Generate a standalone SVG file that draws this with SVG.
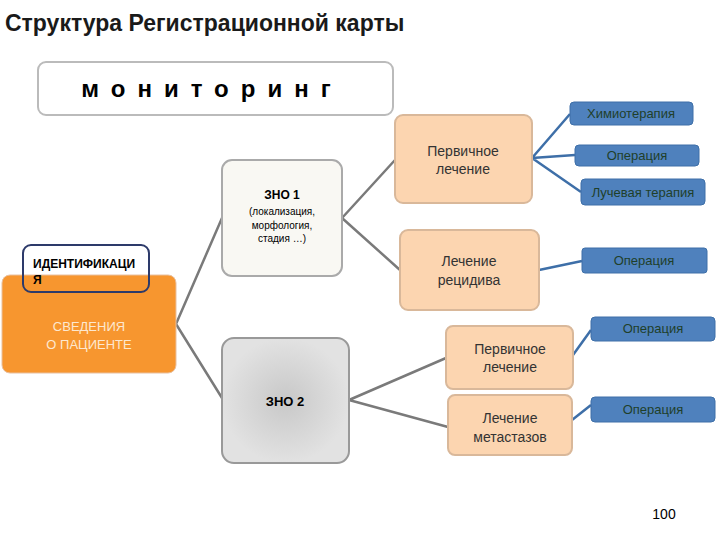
<svg xmlns="http://www.w3.org/2000/svg" width="720" height="540" viewBox="0 0 720 540">
<defs>
<radialGradient id="g2"><stop offset="0" stop-color="#c8c8c8"/><stop offset="1" stop-color="#e2e2e2"/></radialGradient>
<style>
text{font-family:"Liberation Sans",Arial,sans-serif}
.pe{fill:#fcd5b0;stroke:#d9b89a;stroke-width:2}
.bl{fill:#4f81bd;stroke:#3e6fa8;stroke-width:1}
.bt{font-size:13px;fill:#1f3f2a;text-anchor:middle}
.pt{font-size:14px;fill:#333;text-anchor:middle}
.gl{stroke:#7a7a7a;stroke-width:2.5;fill:none}
.bc{stroke:#3e6fa8;stroke-width:2.5;fill:none}
</style>
</defs>
<rect width="720" height="540" fill="#fff"/>
<text x="5" y="31" font-size="23" font-weight="bold" fill="#1a1a1a">Структура Регистрационной карты</text>
<g id="connectors">
<path class="gl" d="M176 324L222 218M176 324L222 398M342 218L395 160M342 218L400 270M349 400L446 358M349 400L448 427"/>
<path class="bc" d="M532 158L570 114M532 158L575 155M532 158L581 192M539 270L582 261M573 355L591 330M572 420L591 405"/>
</g>
<g id="monitoring"><rect x="38" y="62" width="355" height="53" rx="8" fill="#fff" stroke="#bbb" stroke-width="2"/>
<text x="212" y="97" font-size="24" font-weight="bold" text-anchor="middle" letter-spacing="12">мониторинг</text></g>
<g id="patient"><rect x="2" y="275" width="174" height="98" rx="8" fill="#f7962f" stroke="#e8c0a0"/>
<text x="89" y="331" font-size="13" fill="#fde8d0" text-anchor="middle">СВЕДЕНИЯ</text>
<text x="89" y="349" font-size="13" fill="#fde8d0" text-anchor="middle">О ПАЦИЕНТЕ</text></g>
<g id="ident"><rect x="23" y="245" width="126" height="47" rx="8" fill="none" stroke="#2d3a6a" stroke-width="2"/>
<text x="33" y="268" font-size="12" font-weight="bold">ИДЕНТИФИКАЦИ</text>
<text x="33" y="284" font-size="12" font-weight="bold">Я</text></g>
<g id="zno1"><rect x="222" y="160" width="120" height="116" rx="10" fill="#f9f8f3" stroke="#aaa" stroke-width="2"/>
<text x="282" y="199" font-size="12" font-weight="bold" text-anchor="middle">ЗНО 1</text>
<text x="282" y="215" font-size="10" text-anchor="middle">(локализация,</text>
<text x="282" y="229" font-size="10" text-anchor="middle">морфология,</text>
<text x="282" y="242" font-size="10" text-anchor="middle">стадия …)</text></g>
<g id="zno2"><rect x="222" y="338" width="127" height="125" rx="12" fill="url(#g2)" stroke="#999" stroke-width="2"/>
<text x="285" y="406" font-size="13" font-weight="bold" text-anchor="middle">ЗНО 2</text></g>
<g id="p1"><rect class="pe" x="395" y="115" width="137" height="88" rx="8"/>
<text class="pt" x="463" y="156">Первичное</text><text class="pt" x="463" y="174">лечение</text></g>
<g id="rec"><rect class="pe" x="400" y="230" width="139" height="80" rx="8"/>
<text class="pt" x="469" y="266" fill="#2a5a1a">Лечение</text><text class="pt" x="469" y="285" fill="#2a5a1a">рецидива</text></g>
<g id="p2"><rect class="pe" x="446" y="326" width="127" height="63" rx="7"/>
<text class="pt" x="510" y="354">Первичное</text><text class="pt" x="510" y="372">лечение</text></g>
<g id="met"><rect class="pe" x="448" y="395" width="124" height="60" rx="7"/>
<text class="pt" x="510" y="423">Лечение</text><text class="pt" x="510" y="442">метастазов</text></g>
<g id="b1"><rect class="bl" x="570" y="102" width="123" height="23" rx="4"/><text class="bt" x="631" y="118">Химиотерапия</text></g>
<g id="b2"><rect class="bl" x="575" y="145" width="124" height="21" rx="4"/><text class="bt" x="637" y="160">Операция</text></g>
<g id="b3"><rect class="bl" x="581" y="179" width="124" height="26" rx="4"/><text class="bt" x="643" y="197">Лучевая терапия</text></g>
<g id="b4"><rect class="bl" x="582" y="248" width="125" height="25" rx="3"/><text class="bt" x="644" y="265">Операция</text></g>
<g id="b5"><rect class="bl" x="591" y="317" width="124" height="24" rx="4"/><text class="bt" x="653" y="333">Операция</text></g>
<g id="b6"><rect class="bl" x="591" y="397" width="124" height="25" rx="4"/><text class="bt" x="653" y="414">Операция</text></g>
<text x="664" y="519" font-size="14" text-anchor="middle">100</text>
</svg>
